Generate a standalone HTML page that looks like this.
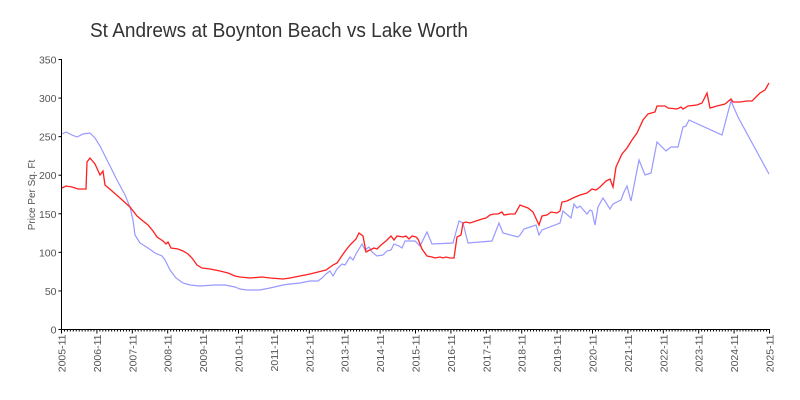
<!DOCTYPE html>
<html><head><meta charset="utf-8"><style>
html,body{margin:0;padding:0;background:#fff;}
svg{display:block;font-family:"Liberation Sans",sans-serif;}
</style></head><body>
<svg id="c" width="800" height="400" viewBox="0 0 800 400" xmlns="http://www.w3.org/2000/svg">
<text x="90" y="37" font-size="20" fill="#333" textLength="378" lengthAdjust="spacingAndGlyphs">St Andrews at Boynton Beach vs Lake Worth</text>
<text transform="translate(35,195) rotate(-90)" font-size="10" fill="#555" text-anchor="middle">Price Per Sq. Ft</text>
<g id="ax" stroke="#000" stroke-width="1"></g>
<g id="lbl" font-size="10.5" fill="#555"></g>
<polyline fill="none" stroke="#9999ff" stroke-width="1.2" points="62,134 66,132 72,135 77,137 83,134 90,133 95,138 100,146 105,156 112,170 117,180 125,195 130,207 133,220 135,235 140,243 148,248 155,253 162,256 165,260 170,270 176,278 183,283 190,285 200,286 215,285 225,285 235,287 240,289 247,290 260,290 270,288 283,285 290,284 300,283 310,281 318,281 322,278 326,274 330,271 333,276 337,269 342,264 345,265 350,257 353,260 356,254 362,244 365,250 369,247 372,252 377,256 383,255 387,251 391,250 394,244 399,246 402,248 405,241 415,241 420,246 427,232 432,244 453,243 459,221 463,223 468,243 492,241 499,223 503,233 518,237 520,235 524,229 536,225 539,235 542,230 560,223 563,211 571,218 574,204 577,208 580,206 587,214 590,210 592,211 595,225 598,207 603,198 610,209 613,204 621,200 624,192 627,186 631,201 639,160 645,175 651,173 657,142 666,151 671,147 678,147 683,127 686,126 689,120 722,135 731,101 738,117 769,174"/>
<polyline fill="none" stroke="#ff2020" stroke-width="1.3" points="62,188 66,186 72,187 78,189 86,189 87,162 90,158 95,164 100,175 103,171 105,185 112,191 120,198 130,207 137,216 143,221 148,225 153,231 157,237 163,241 166,244 168,242 171,248 178,249 183,251 188,254 192,258 197,265 202,268 210,269 220,271 228,273 235,276 240,277 250,278 262,277 270,278 283,279 290,278 300,276 310,274 318,272 326,270 333,265 337,263 341,257 346,250 350,245 356,239 359,233 363,236 366,252 370,250 374,248 377,249 381,245 386,241 391,236 394,240 397,236 403,237 406,236 409,239 412,236 416,237 418,239 422,249 427,256 432,257 435,258 440,257 443,258 446,257 450,258 454,258 457,237 461,235 463,223 466,222 470,223 476,221 482,219 486,218 490,215 494,214 498,214 502,212 504,215 510,214 515,214 520,205 528,208 533,212 539,225 542,216 547,215 551,212 557,213 560,211 562,202 567,201 573,198 580,195 587,193 592,189 596,190 600,187 606,181 610,179 613,187 616,167 622,154 627,148 632,140 637,133 643,120 648,114 655,112 657,106 665,106 668,108 677,109 681,107 683,109 688,106 697,105 702,103 707,93 710,108 717,106 725,104 731,99 733,102 740,102 747,101 752,101 760,93 765,90 769,83"/>
</svg>
<script>
var ns="http://www.w3.org/2000/svg",ax=document.getElementById("ax"),lb=document.getElementById("lbl");
function L(x1,y1,x2,y2){var l=document.createElementNS(ns,"line");l.setAttribute("x1",x1);l.setAttribute("y1",y1);l.setAttribute("x2",x2);l.setAttribute("y2",y2);ax.appendChild(l);}
function T(x,y,s,tr,anc){var t=document.createElementNS(ns,"text");t.setAttribute("x",x);t.setAttribute("y",y);if(tr)t.setAttribute("transform",tr);if(anc)t.setAttribute("text-anchor",anc);t.textContent=s;lb.appendChild(t);}
var x0=61.5,y0=329.5,px=0.7714,yr=35.4;
L(x0,59,x0,y0);L(x0,y0,770,y0);
for(var v=0;v<=350;v+=50){var y=y0-v*px;L(x0-3,y,x0,y);T(x0-5,y+4,String(v),null,"end");}
for(var m=0;m<=240;m++){var x=x0+m*yr/12;L(x,y0,x,y0+(m%12==0?4:2));}
for(var k=0;k<=20;k++){var x=x0+k*yr;T(0,0,(2005+k)+"-11","translate("+(x+4)+","+(y0+5)+") rotate(-90)","end");}
</script>
</body></html>
